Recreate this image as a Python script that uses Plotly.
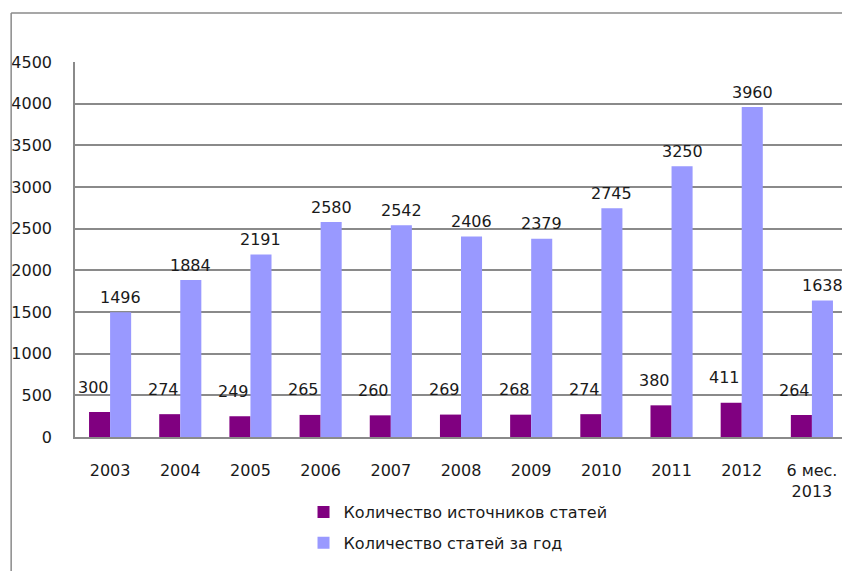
import plotly.graph_objects as go

categories = ["2003", "2004", "2005", "2006", "2007", "2008", "2009", "2010", "2011", "2012", "6 мес.<br>2013"]
sources = [300, 274, 249, 265, 260, 269, 268, 274, 380, 411, 264]
articles = [1496, 1884, 2191, 2580, 2542, 2406, 2379, 2745, 3250, 3960, 1638]
series_names = ["Количество источников статей", "Количество статей за год"]
y_ticks = list(range(0, 4501, 500))

FONT = dict(family="DejaVu Sans, Noto Sans, sans-serif", size=16, color="#1a1a1a")
GRID = "#8a8a8a"

fig = go.Figure()
fig.add_trace(go.Bar(x=categories, y=sources, name=series_names[0], legendgroup="a",
                     marker=dict(color="#800080", line=dict(width=0))))
fig.add_trace(go.Bar(x=categories, y=articles, name=series_names[1], legendgroup="b",
                     marker=dict(color="#9999FF", line=dict(width=0))))

annotations = []
for i, v in enumerate(sources):
    annotations.append(dict(x=i, y=v, xref="x", yref="y", text=str(v), showarrow=False,
                            xshift=-17, yshift=25, font=FONT, xanchor="center", yanchor="middle"))
for i, v in enumerate(articles):
    annotations.append(dict(x=i, y=v, xref="x", yref="y", text=str(v), showarrow=False,
                            xshift=10.5, yshift=15, font=FONT, xanchor="center", yanchor="middle"))

fig.update_layout(
    width=842, height=563,
    margin=dict(l=65, r=3, t=54, b=134),
    paper_bgcolor="white", plot_bgcolor="white",
    barmode="group", bargap=0.40, bargroupgap=0,
    font=FONT,
    showlegend=True,
    legend=dict(orientation="v", x=0.296, xanchor="left", y=-0.155, yanchor="top",
                font=FONT, itemwidth=30, traceorder="grouped", tracegroupgap=7),
    yaxis=dict(range=[0, 4500], tickvals=y_ticks, showgrid=True, gridcolor=GRID, gridwidth=1.5,
               showline=True, linecolor=GRID, linewidth=1.5, ticks="", ticklabelstandoff=18,
               zeroline=False, tickfont=FONT, fixedrange=True),
    xaxis=dict(type="category", range=[-0.5, len(categories) - 0.5], showline=True, linecolor=GRID,
               linewidth=1.5, ticks="", ticklabelstandoff=18, tickfont=FONT, tickangle=0, fixedrange=True),
    annotations=annotations,
    shapes=[
        dict(type="line", xref="paper", yref="paper", x0=-0.0827, x1=-0.0827, y0=-0.4, y1=1.1307,
             line=dict(color=GRID, width=1.5)),
        dict(type="line", xref="paper", yref="paper", x0=-0.0827, x1=1.0, y0=1.1307, y1=1.1307,
             line=dict(color=GRID, width=1.5)),
    ],
)

fig.write_html("out.html")
